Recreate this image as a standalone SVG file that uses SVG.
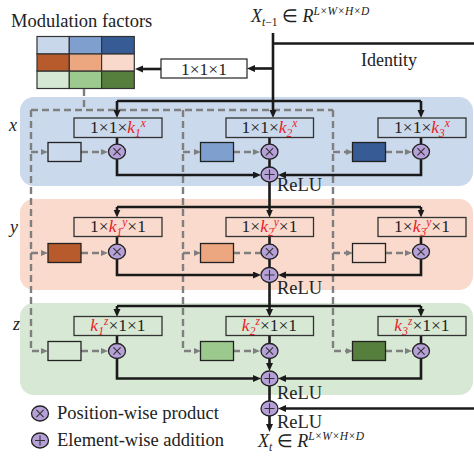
<svg xmlns="http://www.w3.org/2000/svg" width="474" height="458" viewBox="0 0 474 458" font-family="'Liberation Serif', 'Times New Roman', serif">
  <defs>
    <style>
      text { font-family: "Liberation Serif", "Times New Roman", serif; fill: #222; }
      .it { font-style: italic; }
      .k { fill: #e8202a; font-style: italic; }
      .lbl { font-size: 17.5px; text-anchor: middle; }
      .box { fill: none; stroke: #333; stroke-width: 1.3; }
      .feat { stroke: #222; stroke-width: 1.3; }
      .cell { stroke: #333; stroke-width: 1.2; }
      .op { fill: #b6a0d8; stroke: #222; stroke-width: 1.3; }
      .sym { stroke: #333; stroke-width: 1.1; fill: none; }
      .solid { fill: none; stroke: #1a1a1a; stroke-width: 2.6; }
      .arr { marker-end: url(#ah); }
      .dash { fill: none; stroke: #7f7f7f; stroke-width: 2.4; stroke-dasharray: 7 4; }
      .darr { marker-end: url(#gh); }
    </style>
    <marker id="ah" markerUnits="userSpaceOnUse" markerWidth="9" markerHeight="8" refX="2" refY="3.5" orient="auto">
      <path d="M0,0 L8,3.5 L0,7 z" fill="#1a1a1a"/>
    </marker>
    <marker id="gh" markerUnits="userSpaceOnUse" markerWidth="8" markerHeight="7" refX="2" refY="3" orient="auto">
      <path d="M0,0 L7,3 L0,6 z" fill="#7f7f7f"/>
    </marker>
    <g id="mul">
      <ellipse class="op" cx="0" cy="0" rx="8.5" ry="7.5"/>
      <path class="sym" d="M-3.6,-3.6 L3.6,3.6 M-3.6,3.6 L3.6,-3.6"/>
    </g>
    <g id="add">
      <ellipse class="op" cx="0" cy="0" rx="8.5" ry="7.5"/>
      <path class="sym" d="M-5,0 L5,0 M0,-5 L0,5"/>
    </g>
  </defs>

  <rect width="474" height="458" fill="#ffffff"/>

  <!-- axis bands -->
  <g id="band-x">
    <rect x="20" y="97" width="453" height="89" rx="14" fill="#cbd9ec"/>
    <text class="it" x="9" y="131" font-size="18">x</text>
  </g>
  <g id="band-y">
    <rect x="20" y="199" width="453" height="91" rx="14" fill="#f9dacd"/>
    <text class="it" x="10" y="233" font-size="18">y</text>
  </g>
  <g id="band-z">
    <rect x="20" y="303" width="453" height="92" rx="14" fill="#d7e9d4"/>
    <text class="it" x="13" y="330" font-size="18">z</text>
  </g>

  <!-- modulation factor grid -->
  <g id="modulation">
    <text x="11" y="27" font-size="18.5">Modulation factors</text>
    <rect class="cell" x="37" y="36.5" width="32.3" height="17.5" fill="#c9d7ea"/>
    <rect class="cell" x="69.3" y="36.5" width="32.3" height="17.5" fill="#7f9fcf"/>
    <rect class="cell" x="101.6" y="36.5" width="32.7" height="17.5" fill="#375b95"/>
    <rect class="cell" x="37" y="54" width="32.3" height="17.2" fill="#b85b2c"/>
    <rect class="cell" x="69.3" y="54" width="32.3" height="17.2" fill="#eca680"/>
    <rect class="cell" x="101.6" y="54" width="32.7" height="17.2" fill="#f9d9cb"/>
    <rect class="cell" x="37" y="71.2" width="32.3" height="17.3" fill="#d5e8d3"/>
    <rect class="cell" x="69.3" y="71.2" width="32.3" height="17.3" fill="#9cc98e"/>
    <rect class="cell" x="101.6" y="71.2" width="32.7" height="17.3" fill="#567e3c"/>
  </g>

  <g id="conv111">
    <rect class="box" x="161" y="59" width="86" height="19" fill="#ffffff"/>
    <text class="lbl" x="204" y="74.5">1×1×1</text>
  </g>

  <g id="input">
    <text x="251" y="22" font-size="18"><tspan class="it">X</tspan><tspan class="it" font-size="11.5" dy="4">t</tspan><tspan font-size="11.5">−1</tspan><tspan dy="-4"> ∈ </tspan><tspan class="it">R</tspan><tspan class="it" font-size="11.5" dy="-7">L×W×H×D</tspan></text>
  </g>
  <g id="identity">
    <text x="361" y="66" font-size="18">Identity</text>
  </g>

  <!-- connectors -->
  <g id="connectors">
    <!-- input trunk, identity path and 1x1x1 branch -->
    <path class="solid" d="M273,33 V101"/>
    <path class="solid" d="M273,43.5 H474"/>
    <path class="solid arr" d="M273,68.5 H253"/>
    <path class="solid arr" d="M161,69 H141"/>

    <!-- modulation factors fan-out -->
    <path class="dash" d="M84,89 V110"/>
    <path class="dash" d="M31,110 H333"/>
    <path class="dash" d="M31,110 V351 H42" />
    <path class="dash" d="M183,110 V351 H195"/>
    <path class="dash" d="M333,110 V351 H347"/>
    <path class="dash darr" d="M31,152 H43"/>
    <path class="dash darr" d="M183,152 H196"/>
    <path class="dash darr" d="M333,152 H348"/>
    <path class="dash darr" d="M31,253 H43"/>
    <path class="dash darr" d="M183,253 H196"/>
    <path class="dash darr" d="M333,253 H348"/>
    <path class="dash darr" d="M42,351 H43"/>
    <path class="dash darr" d="M195,351 H196"/>
    <path class="dash darr" d="M347,351 H348"/>

    <!-- box to product dashed arrows -->
    <path class="dash darr" d="M81,152 H103"/>
    <path class="dash darr" d="M233,152 H255"/>
    <path class="dash darr" d="M385,152 H407"/>
    <path class="dash darr" d="M81,253 H103"/>
    <path class="dash" d="M233,253 H261"/>
    <path class="dash darr" d="M385,253 H407"/>
    <path class="dash darr" d="M81,351 H103"/>
    <path class="dash darr" d="M233,351 H255"/>
    <path class="dash darr" d="M385,351 H407"/>

    <!-- x stage -->
    <path class="solid" d="M117,101 H421"/>
    <path class="solid arr" d="M117,101 V112"/>
    <path class="solid arr" d="M273,101 V112"/>
    <path class="solid arr" d="M421,101 V112"/>
    <path class="solid" d="M117,137 V144 M269.5,137 V144 M421,137 V144"/>
    <path class="solid arr" d="M117,159 V175 H255"/>
    <path class="solid arr" d="M421,159 V175 H284"/>
    <path class="solid" d="M269.5,159 V167"/>
    <path class="solid" d="M269.5,182 V207"/>

    <!-- y stage -->
    <path class="solid" d="M117,207 H421"/>
    <path class="solid arr" d="M117,207 V211.5"/>
    <path class="solid arr" d="M269.5,207 V211.5"/>
    <path class="solid arr" d="M421,207 V211.5"/>
    <path class="solid" d="M117,236.5 V244 M269.5,236.5 V244 M421,236.5 V244"/>
    <path class="solid arr" d="M117,259 V275 H255"/>
    <path class="solid arr" d="M421,259 V275 H284"/>
    <path class="solid" d="M269.5,259 V268"/>
    <path class="solid" d="M269.5,282 V306"/>

    <!-- z stage -->
    <path class="solid" d="M117,306 H421"/>
    <path class="solid arr" d="M117,306 V311"/>
    <path class="solid arr" d="M269.5,306 V311"/>
    <path class="solid arr" d="M421,306 V311"/>
    <path class="solid" d="M117,335.5 V343.5 M269.5,335.5 V343.5 M421,335.5 V343.5"/>
    <path class="solid arr" d="M117,358 V378.5 H255"/>
    <path class="solid arr" d="M421,358 V378.5 H284"/>
    <path class="solid arr" d="M269.5,358.5 V365"/>

    <!-- residual merge and output -->
    <path class="solid" d="M269.5,386 V401"/>
    <path class="solid arr" d="M474,408.5 H284"/>
    <path class="solid arr" d="M269.5,416 V426"/>
  </g>

  <!-- x stage nodes -->
  <g id="x-kernel-1">
    <rect class="box" x="74" y="118" width="88" height="19.5"/>
    <text class="lbl" x="118" y="132.5">1×1×<tspan class="k">k</tspan><tspan class="k" font-size="11.5" font-style="normal" dy="4">1</tspan><tspan class="k" font-size="11.5" dy="-10">x</tspan></text>
  </g>
  <g id="x-kernel-2">
    <rect class="box" x="226" y="118" width="87.5" height="19.5"/>
    <text class="lbl" x="269.5" y="132.5">1×1×<tspan class="k">k</tspan><tspan class="k" font-size="11.5" font-style="normal" dy="4">2</tspan><tspan class="k" font-size="11.5" dy="-10">x</tspan></text>
  </g>
  <g id="x-kernel-3">
    <rect class="box" x="378" y="118" width="88" height="19.5"/>
    <text class="lbl" x="422" y="132.5">1×1×<tspan class="k">k</tspan><tspan class="k" font-size="11.5" font-style="normal" dy="4">3</tspan><tspan class="k" font-size="11.5" dy="-10">x</tspan></text>
  </g>
  <g id="x-factor-1"><rect class="feat" x="48" y="142.5" width="33" height="19" fill="#cbd9ec"/></g>
  <g id="x-factor-2"><rect class="feat" x="200.5" y="142.5" width="33" height="19" fill="#7f9fcf"/></g>
  <g id="x-factor-3"><rect class="feat" x="352.5" y="142.5" width="33" height="19" fill="#375b95"/></g>
  <g id="x-mul-1"><use href="#mul" x="117" y="151.7"/></g>
  <g id="x-mul-2"><use href="#mul" x="269.5" y="151.7"/></g>
  <g id="x-mul-3"><use href="#mul" x="421" y="151.7"/></g>
  <g id="x-add"><use href="#add" x="269.5" y="174.5"/><text x="277" y="191" font-size="18.5">ReLU</text></g>

  <!-- y stage nodes -->
  <g id="y-kernel-1">
    <rect class="box" x="74" y="217.5" width="88" height="19"/>
    <text class="lbl" x="118" y="231.5">1×<tspan class="k">k</tspan><tspan class="k" font-size="11.5" font-style="normal" dy="4">1</tspan><tspan class="k" font-size="11.5" dy="-10">y</tspan><tspan dy="6">×1</tspan></text>
  </g>
  <g id="y-kernel-2">
    <rect class="box" x="226" y="217.5" width="87.5" height="19"/>
    <text class="lbl" x="269.5" y="231.5">1×<tspan class="k">k</tspan><tspan class="k" font-size="11.5" font-style="normal" dy="4">2</tspan><tspan class="k" font-size="11.5" dy="-10">y</tspan><tspan dy="6">×1</tspan></text>
  </g>
  <g id="y-kernel-3">
    <rect class="box" x="378" y="217.5" width="88" height="19"/>
    <text class="lbl" x="422" y="231.5">1×<tspan class="k">k</tspan><tspan class="k" font-size="11.5" font-style="normal" dy="4">3</tspan><tspan class="k" font-size="11.5" dy="-10">y</tspan><tspan dy="6">×1</tspan></text>
  </g>
  <g id="y-factor-1"><rect class="feat" x="48" y="243.5" width="33" height="19" fill="#b85b2c"/></g>
  <g id="y-factor-2"><rect class="feat" x="200.5" y="243.5" width="33" height="19" fill="#eca680"/></g>
  <g id="y-factor-3"><rect class="feat" x="352.5" y="243.5" width="33" height="19" fill="#f9dacd"/></g>
  <g id="y-mul-1"><use href="#mul" x="117" y="251.7"/></g>
  <g id="y-mul-2"><use href="#mul" x="269.5" y="251.7"/></g>
  <g id="y-mul-3"><use href="#mul" x="421" y="251.7"/></g>
  <g id="y-add"><use href="#add" x="269.5" y="275"/><text x="277" y="294" font-size="18.5">ReLU</text></g>

  <!-- z stage nodes -->
  <g id="z-kernel-1">
    <rect class="box" x="74" y="316.5" width="88" height="19"/>
    <text class="lbl" x="118" y="330.5"><tspan class="k">k</tspan><tspan class="k" font-size="11.5" font-style="normal" dy="4">1</tspan><tspan class="k" font-size="11.5" dy="-10">z</tspan><tspan dy="6">×1×1</tspan></text>
  </g>
  <g id="z-kernel-2">
    <rect class="box" x="226" y="316.5" width="87.5" height="19"/>
    <text class="lbl" x="269.5" y="330.5"><tspan class="k">k</tspan><tspan class="k" font-size="11.5" font-style="normal" dy="4">2</tspan><tspan class="k" font-size="11.5" dy="-10">z</tspan><tspan dy="6">×1×1</tspan></text>
  </g>
  <g id="z-kernel-3">
    <rect class="box" x="378" y="316.5" width="88" height="19"/>
    <text class="lbl" x="422" y="330.5"><tspan class="k">k</tspan><tspan class="k" font-size="11.5" font-style="normal" dy="4">3</tspan><tspan class="k" font-size="11.5" dy="-10">z</tspan><tspan dy="6">×1×1</tspan></text>
  </g>
  <g id="z-factor-1"><rect class="feat" x="48" y="341.5" width="33" height="19" fill="#d7e9d4"/></g>
  <g id="z-factor-2"><rect class="feat" x="200.5" y="341.5" width="33" height="19" fill="#9cc98e"/></g>
  <g id="z-factor-3"><rect class="feat" x="352.5" y="341.5" width="33" height="19" fill="#567e3c"/></g>
  <g id="z-mul-1"><use href="#mul" x="117" y="351"/></g>
  <g id="z-mul-2"><use href="#mul" x="269.5" y="351"/></g>
  <g id="z-mul-3"><use href="#mul" x="421" y="351"/></g>
  <g id="z-add"><use href="#add" x="269.5" y="378.5"/><text x="277" y="399" font-size="18.5">ReLU</text></g>

  <!-- residual merge and output -->
  <g id="out-add"><use href="#add" x="269.5" y="408.5"/><text x="277" y="428" font-size="18.5">ReLU</text></g>
  <g id="output">
    <text x="258" y="447" font-size="18"><tspan class="it">X</tspan><tspan class="it" font-size="11.5" dy="4">t</tspan><tspan dy="-4"> ∈ </tspan><tspan class="it">R</tspan><tspan class="it" font-size="11.5" dy="-7">L×W×H×D</tspan></text>
  </g>

  <!-- legend -->
  <g id="legend">
    <use href="#mul" x="40" y="413.5"/>
    <text x="57" y="418.5" font-size="18.5">Position-wise product</text>
    <use href="#add" x="40" y="440.5"/>
    <text x="57" y="446" font-size="18.5">Element-wise addition</text>
  </g>
</svg>
